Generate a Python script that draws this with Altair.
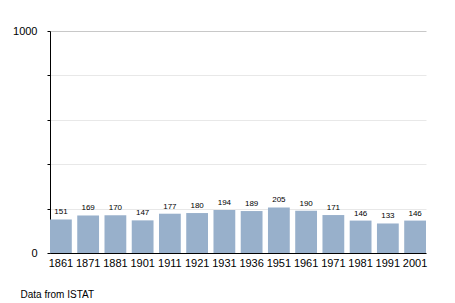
import altair as alt
import pandas as pd

years = ["1861", "1871", "1881", "1901", "1911", "1921", "1931", "1936",
         "1951", "1961", "1971", "1981", "1991", "2001"]
population = [151, 169, 170, 147, 177, 180, 194, 189, 205, 190, 171, 146, 133, 146]

df = pd.DataFrame({"year": years, "pop": population})

FONT = "Liberation Sans"

base = alt.Chart(df).encode(
    x=alt.X("year:N", sort=years, title=None,
            scale=alt.Scale(paddingInner=0.2, paddingOuter=0),
            axis=alt.Axis(labelAngle=0, ticks=False, domainColor="black",
                          labelFont=FONT, labelFontSize=11, labelColor="black",
                          labelPadding=4)),
    y=alt.Y("pop:Q", title=None,
            scale=alt.Scale(domain=[0, 1000], nice=False),
            axis=alt.Axis(values=[0, 200, 400, 600, 800, 1000], format="d",
                          labelExpr="datum.value == 0 || datum.value == 1000 ? datum.label : ''",
                          domainColor="black", tickColor="black", tickSize=3,
                          gridColor={"condition": {"test": "datum.value == 1000", "value": "#c8c8c8"},
                                     "value": "#e8e8e8"},
                          labelFont=FONT, labelFontSize=11, labelColor="black",
                          labelPadding=10)),
)

bars = base.mark_bar(color="#98b0cb")
labels = base.mark_text(dy=-7, fontSize=8, font=FONT, color="black").encode(
    text="pop:Q")

chart = (bars + labels).properties(
    width=376, height=222,
    autosize="none",
    padding={"left": 50, "top": 31, "right": 29, "bottom": 50},
    title=alt.TitleParams("Data from ISTAT", orient="bottom", anchor="start",
                          dx=8, offset=22, fontSize=10, font=FONT,
                          fontWeight="normal", color="black"),
).configure_view(stroke=None)

chart.save("out.html", embed_options={"renderer": "svg", "actions": False})
